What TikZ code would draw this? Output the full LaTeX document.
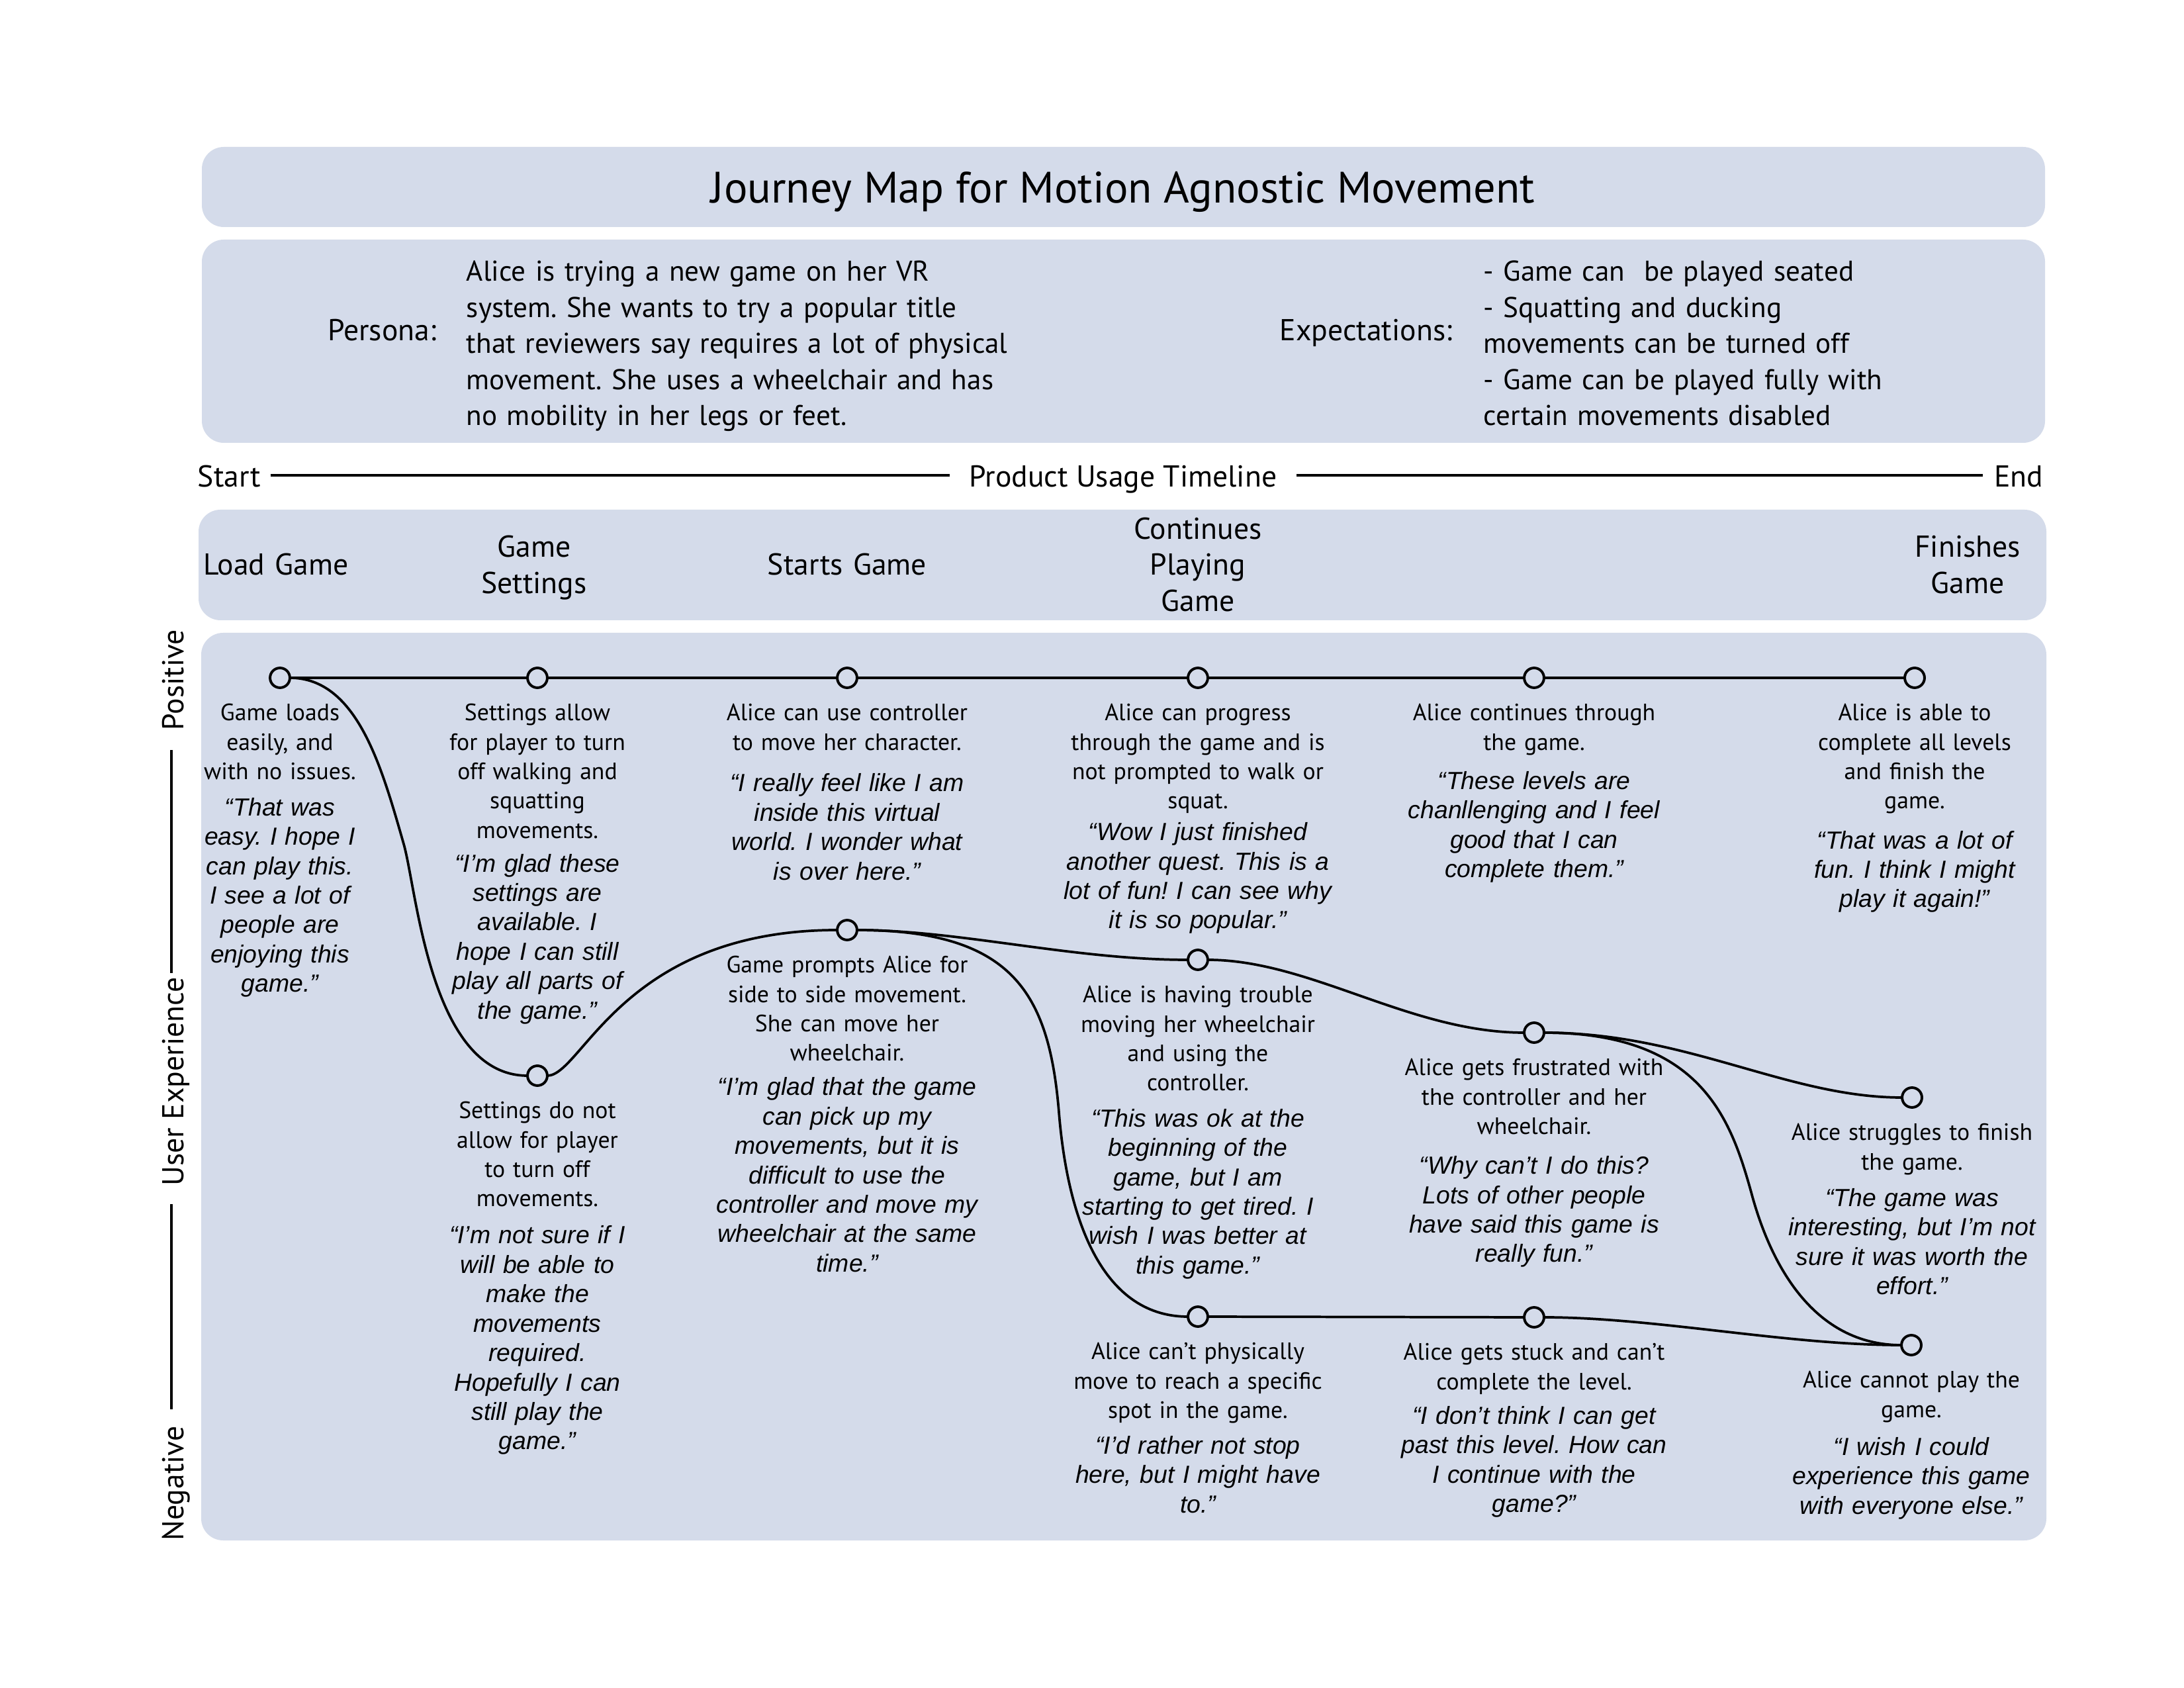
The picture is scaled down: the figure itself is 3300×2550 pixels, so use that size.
\documentclass[tikz,border=0pt]{standalone}
\usepackage{fontspec}
\usetikzlibrary{positioning}
\newfontfamily\bodyfont{PT Sans}
\newfontfamily\quotefont{Liberation Sans}
\definecolor{panelblue}{RGB}{212,219,234}
\frenchspacing

\tikzset{
  panel/.style={fill=panelblue, rounded corners=8pt},
  stopdot/.style={circle, draw, line width=0.95pt, fill=panelblue, minimum size=7.2pt, inner sep=0pt, outer sep=0pt},
  journey/.style={line width=0.9pt},
  rule/.style={line width=1pt},
  desc/.style={text width=5cm, align=center, inner sep=0pt, font=\bodyfont\fontsize{8.6}{10.7}\selectfont,
    execute at begin node=\strut, execute at end node=\strut},
  saying/.style={desc, font=\quotefont\itshape\fontsize{9}{10.7}\selectfont},
  headtext/.style={inner sep=0pt, font=\bodyfont\fontsize{11}{13.13}\selectfont},
  headblock/.style={headtext, text width=3cm, align=center, execute at begin node=\strut, execute at end node=\strut},
  headpara/.style={headtext, font=\bodyfont\fontsize{10.4}{13.13}\selectfont, text width=9cm, align=left,
    anchor=north west, execute at begin node=\strut},
  sidelabel/.style={headtext, text height=10pt, text depth=1.4pt},
}

\begin{document}
\begin{tikzpicture}[x=0.0846667mm, y=-0.0846667mm]
\useasboundingbox (0,0) rectangle (3300,2550);
\fill[white] (0,0) rectangle (3300,2550);

% panels
\fill[panel] (305,222) rectangle (3090,343);
\fill[panel] (305,362) rectangle (3090,669);
\fill[panel] (300,770) rectangle (3092,937);
\fill[panel] (304,956) rectangle (3092,2327);

\node[headtext, font=\bodyfont\fontsize{16}{19}\selectfont] (title) at (1697,290) {Journey Map for Motion Agnostic Movement};

\node[headtext, anchor=base east] (personalabel) at (660,515) {Persona:};
\node[headpara] (personatext) at (704,386) {Alice is trying a new game on her VR\\system. She wants to try a popular title\\that reviewers say requires a lot of physical\\movement. She uses a wheelchair and has\\no mobility in her legs or feet.};
\node[headtext, anchor=base east] (expectlabel) at (2195,515) {Expectations:};
\node[headpara] (expecttext) at (2241,386) {- Game can\ \ be played seated\\- Squatting and ducking\\movements can be turned off\\- Game can be played fully with\\certain movements disabled};

% timeline
\node[sidelabel, anchor=base west] (tlstart) at (298,736) {Start};
\node[sidelabel, anchor=base] (tlmid) at (1697,736) {Product Usage Timeline};
\node[sidelabel, anchor=base east] (tlend) at (3088,736) {End};
\draw[rule] ([xshift=3.4pt]tlstart.east) -- ([xshift=-7pt]tlmid.west);
\draw[rule] ([xshift=7pt]tlmid.east) -- ([xshift=-4pt]tlend.west);

\node[headblock] (stload) at (417,858) {Load Game};
\node[headblock] (stsettings) at (807,858) {Game\\Settings};
\node[headblock] (ststarts) at (1280,858) {Starts Game};
\node[headblock] (stplaying) at (1810,858) {Continues\\Playing\\Game};
\node[headblock] (stfinish) at (2973,858) {Finishes\\Game};

% experience axis
\node[sidelabel, rotate=90, anchor=base] (sidepos) at (277,1027) {Positive};
\node[sidelabel, rotate=90, anchor=base] (sideux) at (277,1634) {User Experience};
\node[sidelabel, rotate=90, anchor=base] (sideneg) at (277,2241) {Negative};
\draw[rule, shorten <=7pt, shorten >=1.5pt] (sidepos.west) -- (sideux.east);
\draw[rule, shorten <=6.5pt, shorten >=6pt] (sideux.west) -- (sideneg.east);

% stops
\node[stopdot] (a1) at (423,1024) {};
\node[stopdot] (a2) at (812,1024) {};
\node[stopdot] (a3) at (1280,1024) {};
\node[stopdot] (a4) at (1810,1024) {};
\node[stopdot] (a5) at (2318,1024) {};
\node[stopdot] (a6) at (2893,1024) {};
\node[stopdot] (b2) at (812,1625) {};
\node[stopdot] (b3) at (1280,1405) {};
\node[stopdot] (b4) at (1810,1450) {};
\node[stopdot] (b5) at (2318,1560) {};
\node[stopdot] (b6) at (2889,1658) {};
\node[stopdot] (c4) at (1810,1989) {};
\node[stopdot] (c5) at (2318,1990) {};
\node[stopdot] (c6) at (2888,2032) {};

% journey lines
\draw[journey] (a1) -- (a2) -- (a3) -- (a4) -- (a5) -- (a6);
\draw[journey] (a1) .. controls (540,1024) and (577,1160) .. (610,1275) .. controls (630,1345) and (650,1625) .. (b2);
\draw[journey] (b2) .. controls (880,1625) and (940,1405) .. (b3);
\draw[journey] (b3) .. controls (1450,1405) and (1620,1450) .. (b4);
\draw[journey] (b3) .. controls (1530,1405) and (1585,1500) .. (1600,1680) .. controls (1612,1830) and (1660,1989) .. (c4);
\draw[journey] (b4) .. controls (1980,1450) and (2130,1560) .. (b5);
\draw[journey] (b5) .. controls (2550,1560) and (2700,1658) .. (b6);
\draw[journey] (b5) .. controls (2570,1560) and (2615,1690) .. (2646,1801) .. controls (2675,1910) and (2740,2032) .. (c6);
\draw[journey] (c4) -- (c5);
\draw[journey] (c5) .. controls (2500,1990) and (2700,2032) .. (c6);

% descriptions
\node[desc, below=4.3pt of a1] (a1d) {Game loads\\easily, and\\with no issues.};
\node[saying, below=2.1pt of a1d] (a1q) {“That was\\easy. I hope I\\can play this.\\I see a lot of\\people are\\enjoying this\\game.”};
\node[desc, below=4.3pt of a2] (a2d) {Settings allow\\for player to turn\\off walking and\\squatting\\movements.};
\node[saying, below=1.1pt of a2d] (a2q) {“I’m glad these\\settings are\\available. I\\hope I can still\\play all parts of\\the game.”};
\node[desc, below=4.3pt of a3] (a3d) {Alice can use controller\\to move her character.};
\node[saying, below=4pt of a3d] (a3q) {“I really feel like I am\\inside this virtual\\world. I wonder what\\is over here.”};
\node[desc, below=4.3pt of a4] (a4d) {Alice can progress\\through the game and is\\not prompted to walk or\\squat.};
\node[saying, below=0.4pt of a4d] (a4q) {“Wow I just finished\\another quest. This is a\\lot of fun! I can see why\\it is so popular.”};
\node[desc, below=4.3pt of a5] (a5d) {Alice continues through\\the game.};
\node[saying, below=3.2pt of a5d] (a5q) {“These levels are\\chanllenging and I feel\\good that I can\\complete them.”};
\node[desc, below=4.3pt of a6] (a6d) {Alice is able to\\complete all levels\\and finish the\\game.};
\node[saying, below=3.4pt of a6d] (a6q) {“That was a lot of\\fun. I think I might\\play it again!”};
\node[desc, below=4.3pt of b2] (b2d) {Settings do not\\allow for player\\to turn off\\movements.};
\node[saying, below=2.4pt of b2d] (b2q) {“I’m not sure if I\\will be able to\\make the\\movements\\required.\\Hopefully I can\\still play the\\game.”};
\node[desc, below=4.3pt of b3] (b3d) {Game prompts Alice for\\side to side movement.\\She can move her\\wheelchair.};
\node[saying, below=1.4pt of b3d] (b3q) {“I’m glad that the game\\can pick up my\\movements, but it is\\difficult to use the\\controller and move my\\wheelchair at the same\\time.”};
\node[desc, below=4.3pt of b4] (b4d) {Alice is having trouble\\moving her wheelchair\\and using the\\controller.};
\node[saying, below=2pt of b4d] (b4q) {“This was ok at the\\beginning of the\\game, but I am\\starting to get tired. I\\wish I was better at\\this game.”};
\node[desc, below=4.3pt of b5] (b5d) {Alice gets frustrated with\\the controller and her\\wheelchair.};
\node[saying, below=3.4pt of b5d] (b5q) {“Why can’t I do this?\\Lots of other people\\have said this game is\\really fun.”};
\node[desc, below=4.3pt of b6] (b6d) {Alice struggles to finish\\the game.};
\node[saying, below=2.2pt of b6d] (b6q) {“The game was\\interesting, but I’m not\\sure it was worth the\\effort.”};
\node[desc, below=4.3pt of c4] (c4d) {Alice can’t physically\\move to reach a specific\\spot in the game.};
\node[saying, below=1.9pt of c4d] (c4q) {“I’d rather not stop\\here, but I might have\\to.”};
\node[desc, below=4.3pt of c5] (c5d) {Alice gets stuck and can’t\\complete the level.};
\node[saying, below=1.5pt of c5d] (c5q) {“I don’t think I can get\\past this level. How can\\I continue with the\\game?”};
\node[desc, below=4.3pt of c6] (c6d) {Alice cannot play the\\game.};
\node[saying, below=2.7pt of c6d] (c6q) {“I wish I could\\experience this game\\with everyone else.”};
\end{tikzpicture}
\end{document}
